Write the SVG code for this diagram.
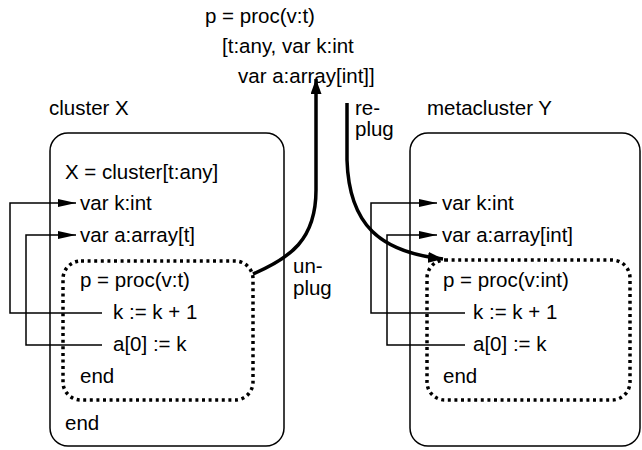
<svg xmlns="http://www.w3.org/2000/svg" width="642" height="450" viewBox="0 0 642 450">
<style>
text{font-family:"Liberation Sans",Arial,Helvetica,sans-serif;font-size:20.5px;fill:#000}
.box{fill:none;stroke:#000;stroke-width:1.5}
.dot{fill:none;stroke:#000;stroke-width:3.5;stroke-dasharray:3 3.6}
.thin{fill:none;stroke:#000;stroke-width:1.5}
.thick{fill:none;stroke:#000;stroke-width:3.5}
</style>
<defs>
<marker id="ah" markerUnits="userSpaceOnUse" markerWidth="18" markerHeight="8" refX="18" refY="4" orient="auto" viewBox="0 0 18 8">
<path d="M0,0 L18,4 L0,8 z" fill="#000"/>
</marker>
<marker id="ahb" markerUnits="userSpaceOnUse" markerWidth="15" markerHeight="11" refX="15" refY="5.5" orient="auto" viewBox="0 0 15 11">
<path d="M0,0 L15,5.5 L0,11 z" fill="#000"/>
</marker>
</defs>
<rect width="642" height="450" fill="#fff"/>
<g id="proc-signature">
<text x="205" y="23">p = proc(v:t)</text>
<text x="222" y="53">[t:any, var k:int</text>
<text x="238" y="83">var a:array[int]]</text>
</g>
<g id="cluster-X">
<text x="49" y="115">cluster X</text>
<rect class="box" x="50" y="133" width="234" height="313" rx="18"/>
<text x="65" y="179">X = cluster[t:any]</text>
<text x="80" y="210">var k:int</text>
<text x="80" y="242">var a:array[t]</text>
<text x="65" y="430">end</text>
</g>
<g id="proc-X">
<rect class="dot" x="63" y="261" width="190" height="139" rx="18"/>
<text x="80" y="287">p = proc(v:t)</text>
<text x="113" y="319">k := k + 1</text>
<text x="113" y="351">a[0] := k</text>
<text x="80" y="383">end</text>
</g>
<g id="metacluster-Y">
<text x="427" y="115">metacluster Y</text>
<rect class="box" x="410" y="133" width="230" height="313" rx="18"/>
<text x="442" y="210">var k:int</text>
<text x="442" y="242">var a:array[int]</text>
</g>
<g id="proc-Y">
<rect class="dot" x="427" y="260" width="203" height="140" rx="18"/>
<text x="443" y="287">p = proc(v:int)</text>
<text x="473" y="319">k := k + 1</text>
<text x="473" y="351">a[0] := k</text>
<text x="443" y="383">end</text>
</g>
<g id="labels">
<text x="293" y="273">un-</text>
<text x="293" y="295">plug</text>
<text x="355" y="115">re-</text>
<text x="355" y="136">plug</text>
</g>
<g id="connectors">
<path class="thin" d="M102,313 H10 V203 H76" marker-end="url(#ah)"/>
<path class="thin" d="M102,345 H26 V235 H76" marker-end="url(#ah)"/>
<path class="thin" d="M465,313 H371 V203 H437" marker-end="url(#ah)"/>
<path class="thin" d="M465,345 H387 V235 H437" marker-end="url(#ah)"/>
<path class="thick" d="M253,274 C290,258 316,240 316,190 L316,79" marker-end="url(#ahb)"/>
<path class="thick" d="M347,103 L347,160 C349,225 380,252 443,259" marker-end="url(#ahb)"/>
</g>
</svg>
